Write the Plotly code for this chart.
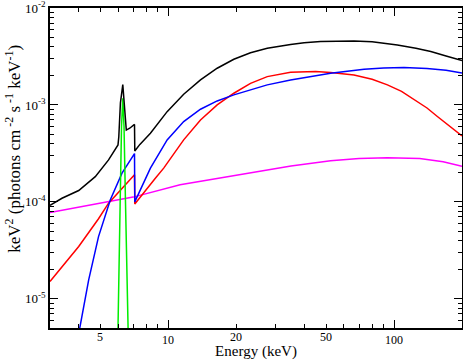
import math
import plotly.graph_objects as go

# ---- data (energy in keV, E^2 F(E) in keV^2 photons cm^-2 s^-1 keV^-1) ----
total_e = [3.0, 3.39, 4.02, 4.76, 5.45, 6.0, 6.05, 6.15, 6.30, 6.40, 6.53, 6.76, 7.04, 7.10, 7.12, 7.5, 8.35, 9.90, 11.72, 13.91, 16.49, 19.54, 23.16, 27.47, 34.84, 40.0, 47.3, 55.0, 66.5, 80.0, 103.5, 125.0, 145.5, 170.0, 200.0]
total_f = [9.2e-5, 1.09e-4, 1.31e-4, 1.82e-4, 2.71e-4, 3.87e-4, 4.7e-4, 1.05e-3, 1.62e-3, 1.05e-3, 5.5e-4, 5.75e-4, 6.3e-4, 6.3e-4, 3.35e-4, 3.92e-4, 5.1e-4, 8.53e-4, 1.29e-3, 1.81e-3, 2.39e-3, 2.96e-3, 3.46e-3, 3.84e-3, 4.2e-3, 4.38e-3, 4.52e-3, 4.58e-3, 4.58e-3, 4.48e-3, 4.16e-3, 3.85e-3, 3.55e-3, 3.2e-3, 2.88e-3]

red_e = [3.0, 4.02, 4.92, 5.45, 7.10, 7.12, 8.78, 9.56, 11.72, 13.91, 16.49, 19.54, 23.16, 27.47, 34.84, 45.0, 52.4, 66.5, 80.0, 93.5, 108.0, 122.7, 140.0, 155.6, 175.0, 200.0]
red_f = [1.51e-5, 3.46e-5, 6.7e-5, 9.7e-5, 1.9e-4, 9.5e-5, 1.75e-4, 2.23e-4, 4.36e-4, 7.0e-4, 1.0e-3, 1.32e-3, 1.67e-3, 1.96e-3, 2.17e-3, 2.21e-3, 2.16e-3, 2.04e-3, 1.84e-3, 1.61e-3, 1.38e-3, 1.13e-3, 9.3e-4, 7.6e-4, 6.1e-4, 4.8e-4]

blue_e = [3.95, 4.08, 4.45, 4.92, 5.55, 6.25, 7.10, 7.12, 7.93, 8.35, 9.90, 11.72, 13.91, 16.49, 19.54, 23.16, 27.47, 34.84, 52.4, 73.7, 90.0, 110.7, 140.0, 170.0, 200.0]
blue_f = [3.5e-6, 5.2e-6, 1.57e-5, 4.38e-5, 1.05e-4, 1.98e-4, 3.15e-4, 1.0e-4, 1.69e-4, 2.23e-4, 4.36e-4, 6.73e-4, 9.03e-4, 1.10e-3, 1.27e-3, 1.43e-3, 1.61e-3, 1.81e-3, 2.12e-3, 2.33e-3, 2.40e-3, 2.43e-3, 2.38e-3, 2.28e-3, 2.13e-3]

magenta_e = [3.0, 5.0, 7.0, 11.3, 18.0, 25.0, 35.0, 52.4, 70.0, 93.5, 130.0, 165.0, 200.0]
magenta_f = [7.77e-5, 9.6e-5, 1.12e-4, 1.5e-4, 1.8e-4, 2.05e-4, 2.35e-4, 2.65e-4, 2.8e-4, 2.86e-4, 2.8e-4, 2.6e-4, 2.33e-4]

green_e = [5.95, 6.0, 6.13, 6.22, 6.30, 6.38, 6.47, 6.63, 6.68]
green_f = [3e-6, 5e-6, 9e-5, 6e-4, 1.17e-3, 6e-4, 1.1e-4, 5e-6, 3e-6]

x_major_vals = [10, 100]
x_major_text = ["10", "100"]
x_extra_vals = [5, 20, 50]
x_extra_text = ["5", "20", "50"]
x_minor_vals = [3, 4, 5, 6, 7, 8, 9, 20, 30, 40, 50, 60, 70, 80, 90, 200]
y_label_vals = [1e-5, 1e-4, 1e-3, 1e-2]
y_label_text = ["10<sup>-5</sup>", "10<sup>-4</sup>", "10<sup>-3</sup>", "10<sup>-2</sup>"]
y_minor_vals = [m * 10.0 ** p for p in (-6, -5, -4, -3) for m in range(2, 10)]

x_range = [3.0, 200.0]
y_range = [5e-6, 1e-2]

FONT = "Liberation Serif"

fig = go.Figure()
series = [
    (magenta_e, magenta_f, "#ff00ff"),
    (red_e, red_f, "#ff0000"),
    (blue_e, blue_f, "#0000ff"),
    (green_e, green_f, "#00ee00"),
    (total_e, total_f, "#000000"),
]
for xs, ys, c in series:
    fig.add_trace(go.Scatter(x=xs, y=ys, mode="lines",
                             line=dict(color=c, width=1.5),
                             showlegend=False, hoverinfo="skip"))

lr_x = [math.log10(v) for v in x_range]
lr_y = [math.log10(v) for v in y_range]

y_title = ("&nbsp;" * 9) + "keV<sup>2</sup> (photons cm<sup> -2</sup> s<sup> -1</sup> keV<sup>-1</sup>)"

fig.update_layout(
    width=463, height=360,
    margin=dict(l=50, r=1, t=8, b=32),
    paper_bgcolor="white", plot_bgcolor="white",
    font=dict(family=FONT, size=12, color="black"),
    xaxis=dict(type="log", range=lr_x, showgrid=False, zeroline=False, automargin=False,
               showline=True, linecolor="black", linewidth=1.5, mirror="ticks",
               ticks="inside", ticklen=8, tickwidth=1, tickcolor="black",
               tickmode="array", tickvals=x_major_vals, ticktext=x_major_text,
               tickfont=dict(family=FONT, size=12), ticklabeloverflow="allow",
               minor=dict(tickmode="array", tickvals=x_minor_vals, ticks="inside",
                          ticklen=4, tickcolor="black", tickwidth=1, showgrid=False),
               title=dict(text="Energy (keV)", font=dict(family=FONT, size=15), standoff=0)),
    xaxis2=dict(type="log", range=lr_x, overlaying="x", side="bottom", anchor="y",
                showgrid=False, zeroline=False, showline=False, automargin=False,
                ticks="", tickmode="array", tickvals=x_extra_vals, ticktext=x_extra_text,
                tickfont=dict(family=FONT, size=12), ticklabeloverflow="allow"),
    yaxis=dict(type="log", range=lr_y, showgrid=False, zeroline=False, automargin=False,
               showline=True, linecolor="black", linewidth=1.5, mirror="ticks",
               ticks="inside", ticklen=8, tickwidth=1, tickcolor="black",
               tickmode="array", tickvals=y_label_vals, ticktext=y_label_text,
               tickfont=dict(family=FONT, size=13), ticklabeloverflow="allow",
               minor=dict(tickmode="array", tickvals=y_minor_vals, ticks="inside",
                          ticklen=4, tickcolor="black", tickwidth=1, showgrid=False),
               title=dict(text=y_title, font=dict(family=FONT, size=17), standoff=0)),
)
fig.add_trace(go.Scatter(x=[10], y=[1e-3], xaxis="x2", mode="markers",
                         marker=dict(opacity=0), showlegend=False, hoverinfo="skip"))

fig.write_html("out.html", config={"displayModeBar": False},
               post_script="document.body.style.margin='0';document.body.style.overflow='hidden';")
